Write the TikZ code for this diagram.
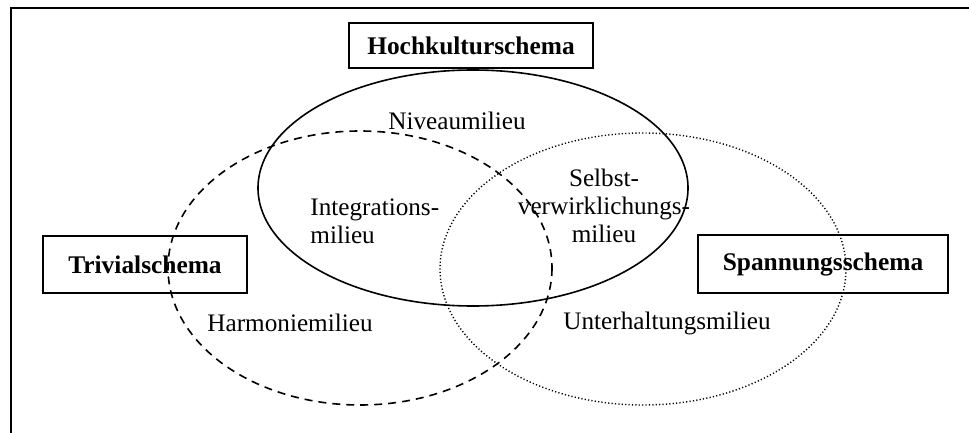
\documentclass[tikz,border=0pt]{standalone}
\usepackage{fontspec}
\setmainfont{Liberation Serif}
\usepackage{tikz}
\usetikzlibrary{positioning}

\begin{document}
\begin{tikzpicture}[x=0.5pt,y=-0.5pt,
  every node/.style={font=\fontsize{12.6}{14}\selectfont,inner sep=0pt},
  schema/.style={draw,line width=1pt,font=\fontsize{12.7}{14}\selectfont\bfseries},
  milieu/.style={align=center}]
\useasboundingbox (0,0) rectangle (969,433);
\draw[line width=1pt] (969,8) -- (11,8) -- (11,433);
% the three schemes
\draw[line width=0.8pt] (473,188) ellipse [x radius=215,y radius=118];
\draw[line width=0.8pt,dash pattern=on 4pt off 3pt] (360,268) ellipse [x radius=192,y radius=137];
\draw[line width=0.7pt,dash pattern=on 0.6pt off 1.1pt] (643,269) ellipse [x radius=203,y radius=136];
\node[schema,minimum width=122pt,minimum height=22.5pt] (hoch) at (471,45.5) {Hochkulturschema};
\node[schema,minimum width=102pt,minimum height=28.5pt] (trivial) at (145,264.5) {Trivialschema};
\node[schema,minimum width=125pt,minimum height=29pt] (spannung) at (823,264) {Spannungsschema};
% milieus
\node[milieu] (niveau) at (457,121) {Niveaumilieu};
\node[align=left,anchor=west] (integration) at (310,221) {Integrations-\\milieu};
\node[milieu] (selbst) at (604,206) {Selbst-\\verwirklichungs-\\milieu};
\node[milieu] (harmonie) at (290,323) {Harmoniemilieu};
\node[milieu] (unterhaltung) at (667,323) {Unterhaltungsmilieu};
\end{tikzpicture}
\end{document}
